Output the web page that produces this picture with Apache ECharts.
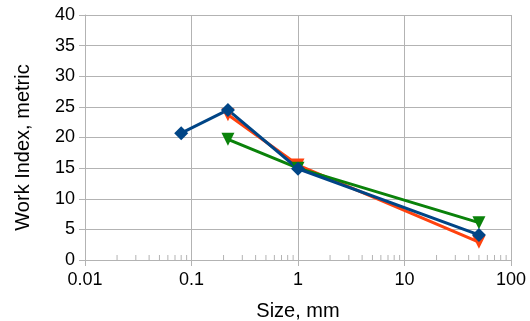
<!DOCTYPE html>
<html>
<head>
<meta charset="utf-8">
<script src="https://cdn.jsdelivr.net/npm/echarts@6/dist/echarts.min.js"></script>
<style>
	html, body { margin: 0; padding: 0; background: #fff; }
	#chart { width: 530px; height: 321px; }
</style>
</head>
<body>
<div id="chart"></div>
<script>
// sizes in mm and work index values
const orangeSizes = [ 0.22, 1, 50 ];
const orangeValues = [ 23.7, 15.5, 2.9 ];
const greenSizes = [ 0.22, 1, 50 ];
const greenValues = [ 19.7, 15.0, 6.1 ];
const blueSizes = [ 0.08, 0.22, 1, 50 ];
const blueValues = [ 20.7, 24.5, 14.9, 4.1 ];
// minor tick positions on the log axis
const minorTicks = [];
[ 0.01, 0.1, 1, 10 ].forEach( ( decade ) => {
	for ( let m = 2; m <= 9; m++ ) {
		minorTicks.push( [ +( decade * m ).toPrecision( 3 ), 0 ] );
	}
} );

const font = 'Liberation Sans';
const gridColor = '#b3b3b3';

function pairs( xs, ys ) {
	return xs.map( ( x, i ) => [ x, ys[ i ] ] );
}

function lineSeries( name, xs, ys, color, symbol, size ) {
	return {
		name: name,
		type: 'line',
		data: pairs( xs, ys ),
		symbol: symbol,
		symbolSize: size,
		lineStyle: { color: color, width: 3 },
		itemStyle: { color: color },
		animation: false
	};
}

const chart = echarts.init( document.getElementById( 'chart' ) );
chart.setOption( {
	animation: false,
	grid: { left: 85, right: 19, top: 15, bottom: 61, outerBoundsMode: 'none' },
	xAxis: {
		type: 'log',
		min: 0.01,
		max: 100,
		logBase: 10,
		name: 'Size, mm',
		nameLocation: 'middle',
		nameGap: 41,
		nameTextStyle: { fontFamily: font, fontSize: 20, color: '#000' },
		axisLine: { lineStyle: { color: gridColor } },
		axisTick: { show: true, length: 6, lineStyle: { color: gridColor } },
		axisLabel: { fontFamily: font, fontSize: 18, color: '#000', margin: 11,
			formatter: ( v ) => String( v ) },
		splitLine: { show: true, lineStyle: { color: gridColor } }
	},
	yAxis: {
		type: 'value',
		min: 0,
		max: 40,
		interval: 5,
		name: 'Work Index, metric',
		nameLocation: 'middle',
		nameGap: 52,
		// the title sits a little below the middle of the axis
		nameTextStyle: { fontFamily: font, fontSize: 20, color: '#000', padding: [ 0, 20, 0, 0 ] },
		axisLine: { show: true, lineStyle: { color: gridColor } },
		axisTick: { show: true, length: 6, lineStyle: { color: gridColor } },
		axisLabel: { fontFamily: font, fontSize: 18, color: '#000', margin: 10 },
		splitLine: { show: true, lineStyle: { color: gridColor } }
	},
	series: [
		{
			type: 'custom',
			data: minorTicks,
			silent: true,
			z: 1,
			renderItem: function ( params, api ) {
				const p = api.coord( [ api.value( 0 ), 0 ] );
				return {
					type: 'line',
					shape: { x1: p[ 0 ], y1: p[ 1 ], x2: p[ 0 ], y2: p[ 1 ] - 5 },
					style: { stroke: gridColor, lineWidth: 1 }
				};
			}
		},
		lineSeries( 'orange', orangeSizes, orangeValues, '#ff420e', 'path://M0,0 L10,0 L5,9 Z', 13 ),
		lineSeries( 'green', greenSizes, greenValues, '#0a820a', 'path://M0,0 L10,0 L5,9 Z', 13 ),
		lineSeries( 'blue', blueSizes, blueValues, '#004586', 'diamond', 14 )
	]
} );
</script>
</body>
</html>
